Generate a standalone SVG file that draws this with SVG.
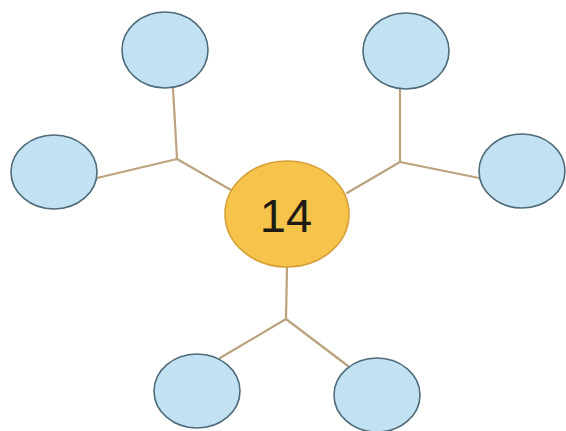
<svg xmlns="http://www.w3.org/2000/svg" width="566" height="431" viewBox="0 0 566 431">
<style>
.leaf{fill:#c2e2f3;stroke:#4f6a78;stroke-width:1.6}
.hub{fill:#f6c34b;stroke:#d6a03a;stroke-width:1.6}
.conn{stroke:#bba37f;stroke-width:2.2;fill:none;stroke-linecap:round;stroke-linejoin:round}
.num{font-family:"Liberation Sans",Arial,sans-serif;font-size:47px;fill:#1e1a14;text-anchor:middle}
</style>
<rect width="566" height="431" fill="#ffffff"/>
<g id="connectors">
<polyline class="conn" points="173,88 177,159"/>
<polyline class="conn" points="97,178 177,159 231,190"/>
<polyline class="conn" points="400,88 400,162"/>
<polyline class="conn" points="479,178 400,162 347,193"/>
<polyline class="conn" points="287,267 286,319"/>
<polyline class="conn" points="220,358 286,319 348,366"/>
</g>
<g id="node-top-left"><ellipse class="leaf" cx="165" cy="50" rx="43" ry="38"/></g>
<g id="node-left"><ellipse class="leaf" cx="54" cy="172" rx="43" ry="37"/></g>
<g id="node-top-right"><ellipse class="leaf" cx="406" cy="51" rx="43" ry="38"/></g>
<g id="node-right"><ellipse class="leaf" cx="522" cy="171" rx="43" ry="37"/></g>
<g id="node-bottom-left"><ellipse class="leaf" cx="197" cy="391" rx="43" ry="37"/></g>
<g id="node-bottom-right"><ellipse class="leaf" cx="377" cy="395" rx="43" ry="37"/></g>
<g id="node-center"><ellipse class="hub" cx="287" cy="214" rx="62" ry="53"/><text class="num" x="286" y="232">14</text></g>
</svg>
